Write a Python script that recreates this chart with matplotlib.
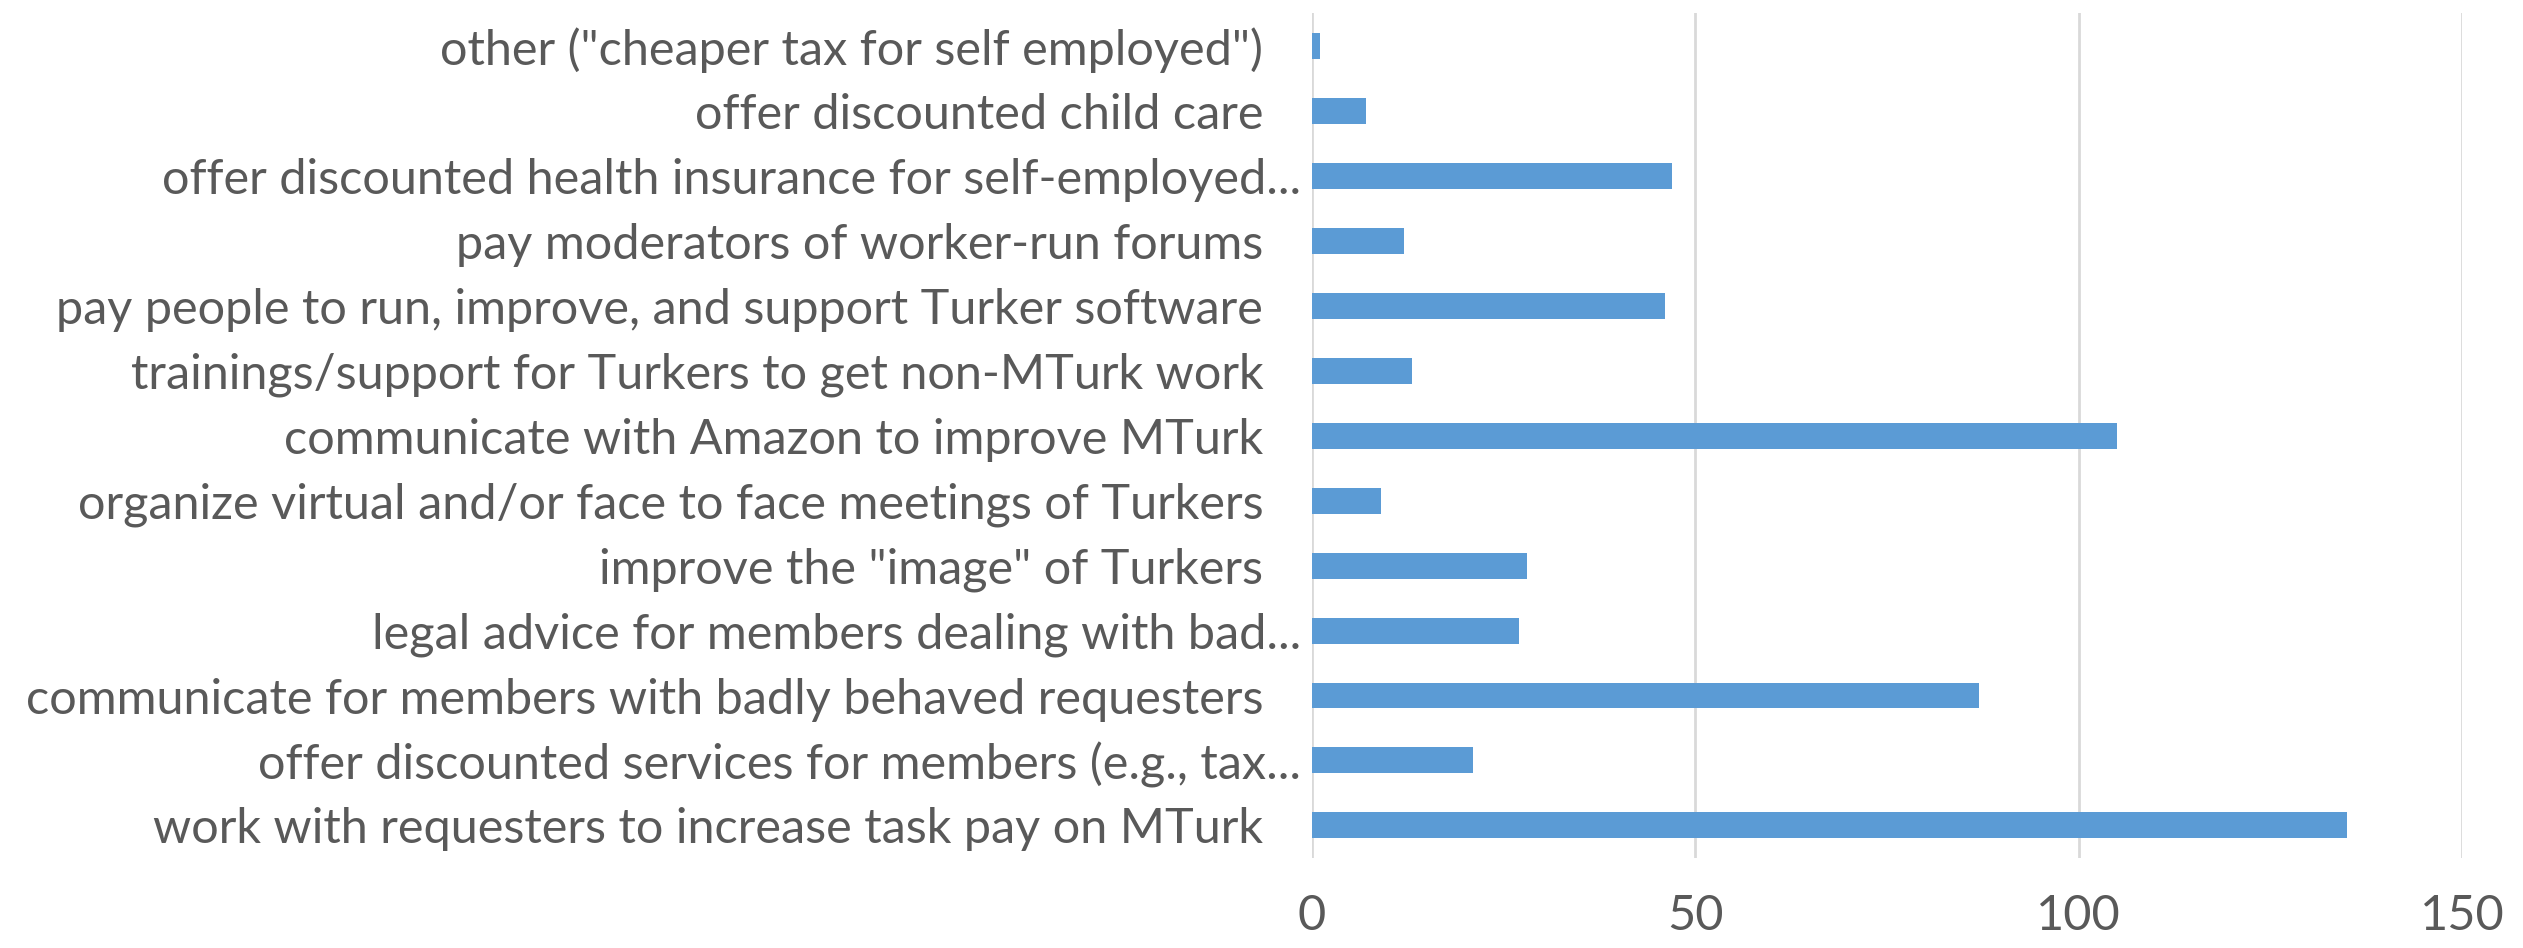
import matplotlib.pyplot as plt
import numpy as np

# categories listed bottom to top (as drawn)
labels = [
    'work with requesters to increase task pay on MTurk',
    'offer discounted services for members (e.g., tax...',
    'communicate for members with badly behaved requesters',
    'legal advice for members dealing with bad...',
    'improve the "image" of Turkers',
    'organize virtual and/or face to face meetings of Turkers',
    'communicate with Amazon to improve MTurk',
    'trainings/support for Turkers to get non-MTurk work',
    'pay people to run, improve, and support Turker software',
    'pay moderators of worker-run forums',
    'offer discounted health insurance for self-employed...',
    'offer discounted child care',
    'other ("cheaper tax for self employed")',
]
counts = [135, 21, 87, 27, 28, 9, 105, 13, 46, 12, 47, 7, 1]
xticks = [0, 50, 100, 150]

plt.rcParams['font.family'] = ['Lato', 'DejaVu Sans']

fig = plt.figure(figsize=(25.23, 9.48), dpi=100)
ax = fig.add_axes([0.520, 0.095, 0.4558, 0.891])

y = np.arange(len(labels))
ax.barh(y, counts, height=0.4, color='#5B9BD5', zorder=3)

ax.set_xlim(0, 150)
ax.set_ylim(-0.5, len(labels) - 0.5)
ax.set_xticks(xticks)
ax.set_xticklabels([str(t) for t in xticks])
# pad non-truncated labels so their right edge sits left of the "..." ones
shown = [l if l.endswith('...') else l + '   ' for l in labels]
ax.set_yticks(y)
ax.set_yticklabels(shown)

ax.tick_params(axis='y', length=0, pad=8, labelsize=35, labelcolor='#595959')
ax.tick_params(axis='x', length=0, pad=26, labelsize=35, labelcolor='#595959')

ax.grid(axis='x', color='#d9d9d9', linewidth=2, zorder=0)
for s in ax.spines.values():
    s.set_visible(False)

fig.savefig('out.png', dpi=100, facecolor='white')
